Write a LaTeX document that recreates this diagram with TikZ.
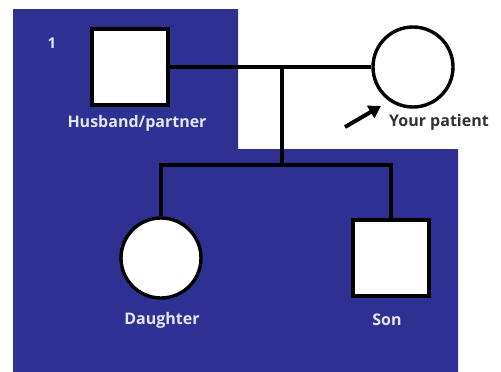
\documentclass[tikz,border=0pt]{standalone}
\usepackage{fontspec}
\setmainfont{Open Sans}
\usetikzlibrary{arrows.meta}

\definecolor{pedblue}{RGB}{46,48,146}
\definecolor{lbltext}{RGB}{228,228,245}
\definecolor{ptgray}{RGB}{50,50,50}

\tikzset{
  male/.style={draw=black, fill=white, line width=3.4pt, minimum size=76pt, inner sep=0pt},
  female/.style={circle, draw=black, fill=white, line width=3.4pt, minimum size=80pt, inner sep=0pt},
  link/.style={draw=black, line width=3.4pt},
  lbl/.style={text=lbltext, font=\fontsize{16}{19}\selectfont\bfseries, inner sep=0pt}
}

\begin{document}
\begin{tikzpicture}[x=1pt, y=-1pt]
  \useasboundingbox (0,0) rectangle (501,372);
  % blue background
  \fill [pedblue] (13,9) -- (238,9) -- (238,149) -- (458,149) -- (458,372) -- (13,372) -- cycle;
  \node [lbl, font=\fontsize{15}{18}\selectfont\bfseries] (num) at (52,43) {1};

  % parents
  \node [male] (husband) at (130,67) {};
  \node [female] (patient) at (413,67) {};
  \node [lbl] (husbandlbl) at (137,123) {Husband/partner};
  \node [text=ptgray, font=\fontsize{16}{19}\selectfont\bfseries, inner sep=0pt] (patientlbl) at (439,122) {Your patient};

  % children
  \node [female] (daughter) at (161,258) {};
  \node [male] (son) at (391,258) {};
  \node [lbl] (daughterlbl) at (162,320) {Daughter};
  \node [lbl] (sonlbl) at (387,320) {Son};

  % connectors
  \coordinate (mid) at (282,67);
  \coordinate (sib) at (282,165);
  \draw [link] (husband.east) -- (patient.west);
  \draw [link] (mid) -- (sib);
  \draw [link] (daughter.north) |- (sib) -| (son.north);

  % patient arrow
  \coordinate (tail) at (345,127);
  \coordinate (tip) at (381,106);
  \draw [line width=4pt, -{Triangle[length=12pt, width=14pt]}] (tail) -- (tip);
\end{tikzpicture}
\end{document}
